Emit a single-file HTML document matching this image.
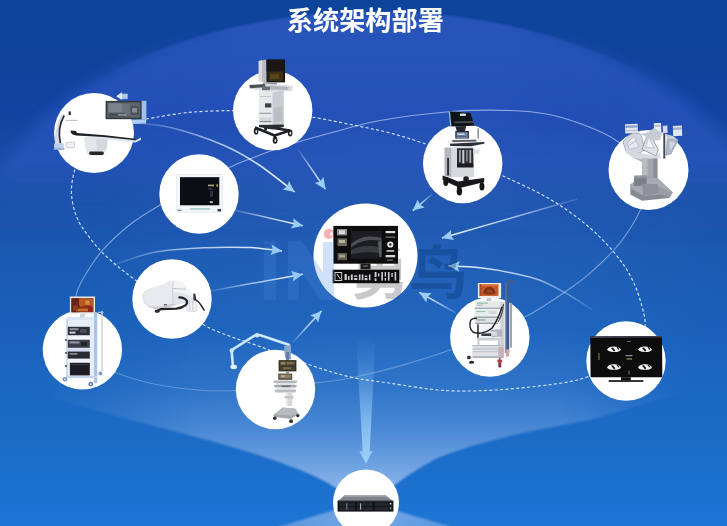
<!DOCTYPE html>
<html lang="zh">
<head>
<meta charset="utf-8">
<title>系统架构部署</title>
<style>
html,body{margin:0;padding:0;background:#1b58b2;}
body{width:727px;height:526px;overflow:hidden;font-family:"Liberation Sans",sans-serif;}
svg{display:block;position:absolute;left:0;top:0;}
h1.t{position:absolute;left:287px;top:4px;margin:0;width:158px;height:32px;font:bold 26px/32px "Liberation Sans",sans-serif;color:transparent;white-space:nowrap;overflow:hidden;z-index:2;}
</style>
</head>
<body>
<svg width="727" height="526" viewBox="0 0 727 526">
<defs>
<linearGradient id="bg" x1="0" y1="0" x2="0" y2="526" gradientUnits="userSpaceOnUse">
<stop offset="0" stop-color="#0d4499"/>
<stop offset="0.114" stop-color="#10439b"/>
<stop offset="0.21" stop-color="#1243a2"/>
<stop offset="0.247" stop-color="#1546a2"/>
<stop offset="0.305" stop-color="#1a4dab"/>
<stop offset="0.38" stop-color="#1a51aa"/>
<stop offset="0.475" stop-color="#1a58b2"/>
<stop offset="0.627" stop-color="#1a61bb"/>
<stop offset="0.76" stop-color="#1b68c3"/>
<stop offset="0.855" stop-color="#1b6dc8"/>
<stop offset="0.93" stop-color="#1c71cf"/>
<stop offset="1" stop-color="#1e75d3"/>
</linearGradient>
<linearGradient id="dome" x1="0" y1="0" x2="0" y2="526" gradientUnits="userSpaceOnUse">
<stop offset="0.025" stop-color="#5a78fa" stop-opacity="0.34"/>
<stop offset="0.114" stop-color="#5a78fa" stop-opacity="0.32"/>
<stop offset="0.21" stop-color="#5a78fa" stop-opacity="0.26"/>
<stop offset="0.305" stop-color="#5a78fa" stop-opacity="0.14"/>
<stop offset="0.38" stop-color="#5a78fa" stop-opacity="0.05"/>
<stop offset="0.456" stop-color="#5a78fa" stop-opacity="0"/>
</linearGradient>
<linearGradient id="mh" x1="0" y1="0" x2="727" y2="0" gradientUnits="userSpaceOnUse">
<stop offset="0.10" stop-color="#000"/>
<stop offset="0.33" stop-color="#fff"/>
<stop offset="0.70" stop-color="#fff"/>
<stop offset="0.93" stop-color="#000"/>
</linearGradient>
<linearGradient id="mhi" x1="0" y1="0" x2="727" y2="0" gradientUnits="userSpaceOnUse">
<stop offset="0.10" stop-color="#fff"/>
<stop offset="0.33" stop-color="#000"/>
<stop offset="0.70" stop-color="#000"/>
<stop offset="0.93" stop-color="#fff"/>
</linearGradient>
<mask id="mSharp" maskUnits="userSpaceOnUse" x="0" y="0" width="727" height="526"><rect width="727" height="526" fill="url(#mh)"/></mask>
<mask id="mSoft" maskUnits="userSpaceOnUse" x="0" y="0" width="727" height="526"><rect width="727" height="526" fill="url(#mhi)"/></mask>
<linearGradient id="mf" x1="0" y1="0" x2="727" y2="0" gradientUnits="userSpaceOnUse">
<stop offset="0.04" stop-color="#000"/>
<stop offset="0.27" stop-color="#fff"/>
<stop offset="0.77" stop-color="#fff"/>
<stop offset="0.965" stop-color="#000"/>
</linearGradient>
<mask id="mFun" maskUnits="userSpaceOnUse" x="0" y="0" width="727" height="526"><rect width="727" height="526" fill="url(#mf)"/></mask>
<clipPath id="cIn"><circle cx="365.5" cy="255.5" r="52"/><circle cx="489.8" cy="337" r="39.7"/></clipPath>
<clipPath id="cOut"><path clip-rule="evenodd" d="M0,0H727V526H0Z M417.5,255.5 a52,52 0 1,0 -104,0 a52,52 0 1,0 104,0Z"/></clipPath>
<radialGradient id="cglow" cx="0" cy="0" r="1" gradientUnits="userSpaceOnUse" gradientTransform="translate(400,270) scale(330,170)">
<stop offset="0" stop-color="#9fc0ff" stop-opacity="0.07"/><stop offset="0.6" stop-color="#9fc0ff" stop-opacity="0.04"/><stop offset="1" stop-color="#9fc0ff" stop-opacity="0"/>
</radialGradient>
<filter id="b8" x="-10%" y="-10%" width="120%" height="120%"><feGaussianBlur stdDeviation="7"/></filter>
<linearGradient id="funnel" x1="0" y1="0" x2="0" y2="526" gradientUnits="userSpaceOnUse">
<stop offset="0.62" stop-color="#96b9eb" stop-opacity="0"/>
<stop offset="0.741" stop-color="#96b9eb" stop-opacity="0.15"/>
<stop offset="0.76" stop-color="#96b9eb" stop-opacity="0.22"/>
<stop offset="0.817" stop-color="#96b9eb" stop-opacity="0.38"/>
<stop offset="0.871" stop-color="#96b9eb" stop-opacity="0.63"/>
<stop offset="0.93" stop-color="#a6c6f0" stop-opacity="0.8"/>
</linearGradient>
<linearGradient id="beam" x1="0" y1="336" x2="0" y2="464" gradientUnits="userSpaceOnUse">
<stop offset="0" stop-color="#8cc4f5" stop-opacity="0"/>
<stop offset="0.18" stop-color="#8cc4f5" stop-opacity="0.13"/>
<stop offset="0.4" stop-color="#8cc4f5" stop-opacity="0.36"/>
<stop offset="0.72" stop-color="#94caf8" stop-opacity="0.8"/>
<stop offset="1" stop-color="#9ad0fb" stop-opacity="1"/>
</linearGradient>
<radialGradient id="under" cx="366" cy="500" r="130" gradientUnits="userSpaceOnUse">
<stop offset="0" stop-color="#a6c6f0" stop-opacity="0.8"/>
<stop offset="0.3" stop-color="#8db5ea" stop-opacity="0.7"/>
<stop offset="0.8" stop-color="#7faee8" stop-opacity="0.55"/>
<stop offset="1" stop-color="#6fa2e4" stop-opacity="0.4"/>
</radialGradient>
<filter id="b1" x="-10%" y="-10%" width="120%" height="120%"><feGaussianBlur stdDeviation="0.8"/></filter>
<filter id="b2" x="-10%" y="-10%" width="120%" height="120%"><feGaussianBlur stdDeviation="2"/></filter>
<filter id="b3" x="-20%" y="-20%" width="140%" height="140%"><feGaussianBlur stdDeviation="0.45"/></filter>
</defs>

<!-- background -->
<rect x="0" y="0" width="727" height="526" fill="url(#bg)"/>
<rect x="0" y="0" width="727" height="526" fill="url(#cglow)"/>
<!-- dome -->
<g mask="url(#mSharp)"><ellipse cx="375" cy="254" rx="400" ry="242.5" fill="url(#dome)" filter="url(#b1)"/></g>
<g mask="url(#mSoft)"><ellipse cx="375" cy="254" rx="400" ry="242.5" fill="url(#dome)" filter="url(#b8)"/></g>
<!-- funnel -->
<g filter="url(#b1)" mask="url(#mFun)">
<path d="M-10,380 C30,392 50,398 75,405 C110,414 130,420 150,425 C185,434 205,439 225,445 C260,455 285,464 300,470 C315,476 325,481 336,488 L366,500 L396,484 C410,474 425,464 439,457.5 C465,447 490,441 514,435 C540,429 565,425 589,420 C610,415 625,410 639,405 C670,396 700,390 737,384 L737,300 L-10,300 Z" fill="url(#funnel)"/>
<path d="M336,509.2 C320,514.5 298,521 264,531 L466,531 C434,521.5 412,515.5 396,510.5 Z" fill="url(#under)"/>
</g>
<!-- beam -->
<path d="M356,336 L375.5,336 L369.7,451.5 L372.6,451 L366,463.8 L359.3,451 L362.7,451.5 Z" fill="url(#beam)" filter="url(#b3)"/>

<defs><linearGradient id="gaB" gradientUnits="userSpaceOnUse" x1="133.8" y1="122.7" x2="294.6" y2="192"><stop offset="0" stop-color="#cfe4ff" stop-opacity="0.12"/><stop offset="0.45" stop-color="#d9eaff" stop-opacity="0.7"/><stop offset="1" stop-color="#f0f7ff" stop-opacity="1"/></linearGradient><linearGradient id="gaD" gradientUnits="userSpaceOnUse" x1="298.5" y1="150" x2="325.4" y2="189.2"><stop offset="0" stop-color="#cfe4ff" stop-opacity="0.12"/><stop offset="0.45" stop-color="#d9eaff" stop-opacity="0.7"/><stop offset="1" stop-color="#f0f7ff" stop-opacity="1"/></linearGradient><linearGradient id="gaE" gradientUnits="userSpaceOnUse" x1="232" y1="209.5" x2="302.8" y2="225.8"><stop offset="0" stop-color="#cfe4ff" stop-opacity="0.12"/><stop offset="0.45" stop-color="#d9eaff" stop-opacity="0.7"/><stop offset="1" stop-color="#f0f7ff" stop-opacity="1"/></linearGradient><linearGradient id="gaF" gradientUnits="userSpaceOnUse" x1="113.5" y1="265" x2="282" y2="250.9"><stop offset="0" stop-color="#cfe4ff" stop-opacity="0.12"/><stop offset="0.45" stop-color="#d9eaff" stop-opacity="0.7"/><stop offset="1" stop-color="#f0f7ff" stop-opacity="1"/></linearGradient><linearGradient id="gaH" gradientUnits="userSpaceOnUse" x1="210" y1="291" x2="302.8" y2="274.3"><stop offset="0" stop-color="#cfe4ff" stop-opacity="0.12"/><stop offset="0.45" stop-color="#d9eaff" stop-opacity="0.7"/><stop offset="1" stop-color="#f0f7ff" stop-opacity="1"/></linearGradient><linearGradient id="gaI" gradientUnits="userSpaceOnUse" x1="292.6" y1="342.4" x2="321.5" y2="310.9"><stop offset="0" stop-color="#cfe4ff" stop-opacity="0.12"/><stop offset="0.45" stop-color="#d9eaff" stop-opacity="0.7"/><stop offset="1" stop-color="#f0f7ff" stop-opacity="1"/></linearGradient><linearGradient id="gaJ" gradientUnits="userSpaceOnUse" x1="456" y1="313" x2="419.3" y2="292.4"><stop offset="0" stop-color="#cfe4ff" stop-opacity="0.12"/><stop offset="0.45" stop-color="#d9eaff" stop-opacity="0.7"/><stop offset="1" stop-color="#f0f7ff" stop-opacity="1"/></linearGradient><linearGradient id="gaK" gradientUnits="userSpaceOnUse" x1="592.5" y1="309.8" x2="448.5" y2="265.8"><stop offset="0" stop-color="#cfe4ff" stop-opacity="0.12"/><stop offset="0.45" stop-color="#d9eaff" stop-opacity="0.7"/><stop offset="1" stop-color="#f0f7ff" stop-opacity="1"/></linearGradient><linearGradient id="gaM" gradientUnits="userSpaceOnUse" x1="432.3" y1="194" x2="412.8" y2="210.6"><stop offset="0" stop-color="#cfe4ff" stop-opacity="0.12"/><stop offset="0.45" stop-color="#d9eaff" stop-opacity="0.7"/><stop offset="1" stop-color="#f0f7ff" stop-opacity="1"/></linearGradient><linearGradient id="gaN" gradientUnits="userSpaceOnUse" x1="578" y1="198.8" x2="442" y2="238"><stop offset="0" stop-color="#cfe4ff" stop-opacity="0.12"/><stop offset="0.45" stop-color="#d9eaff" stop-opacity="0.7"/><stop offset="1" stop-color="#f0f7ff" stop-opacity="1"/></linearGradient><linearGradient id="gLoop" gradientUnits="userSpaceOnUse" x1="0" y1="100" x2="0" y2="400"><stop offset="0" stop-color="#cfe0ff" stop-opacity="0.62"/><stop offset="0.65" stop-color="#cfe0ff" stop-opacity="0.5"/><stop offset="0.85" stop-color="#cfe0ff" stop-opacity="0.36"/><stop offset="1" stop-color="#cfe0ff" stop-opacity="0.3"/></linearGradient></defs>
<g filter="url(#b3)">
<path d="M380.0,120.5 C399.4,117.1 429.9,113.2 451.6,111.5 C473.3,109.8 493.9,110.0 510.0,110.5 C526.1,111.0 535.3,111.8 548.0,114.3 C560.7,116.8 574.5,121.3 586.0,125.8 C597.5,130.2 607.5,134.3 617.0,141.0 C626.5,147.7 638.2,157.5 643.0,166.0 C647.8,174.5 646.4,184.7 646.0,192.0 C645.6,199.3 643.5,202.9 640.5,209.6 C637.5,216.3 632.3,225.4 627.7,232.3 C623.1,239.2 619.7,243.9 613.1,251.0 C606.5,258.1 596.0,268.0 588.0,274.8 C580.0,281.6 572.0,287.1 565.0,292.0 C558.0,296.9 552.4,300.5 546.0,304.5 C539.6,308.5 535.9,311.2 526.6,316.1 C517.3,321.0 502.8,328.4 490.0,334.0 C477.2,339.6 463.7,345.1 450.0,350.0 C436.3,354.9 421.2,359.6 407.8,363.6 C394.4,367.6 380.6,371.1 369.3,373.8 C358.0,376.5 348.9,378.5 340.0,380.0 C331.1,381.5 326.5,381.4 315.7,382.9 C304.9,384.4 288.5,387.7 275.0,389.0 C261.5,390.3 247.3,390.4 234.8,390.6 C222.3,390.8 212.8,391.2 200.0,390.2 C187.2,389.2 171.6,387.6 157.8,384.8 C144.0,382.0 128.9,377.9 117.3,373.3 C105.7,368.7 95.5,364.7 88.0,357.0 C80.5,349.3 74.0,337.4 72.0,327.0 C70.0,316.6 74.0,303.3 76.3,294.4 C78.6,285.5 81.5,281.2 86.0,273.8 C90.5,266.4 95.5,258.0 103.0,249.7 C110.5,241.4 121.3,231.4 130.7,224.0 C140.1,216.6 148.8,211.5 159.5,205.2 C170.2,198.9 183.2,192.4 195.0,186.0 C206.8,179.6 221.4,171.5 230.4,167.0 C239.4,162.5 242.3,161.9 249.2,159.2 C256.1,156.5 262.9,153.7 271.5,150.7 C280.1,147.7 290.0,144.5 300.6,141.3 C311.2,138.2 321.8,135.3 335.0,131.8 C348.2,128.3 360.6,123.9 380.0,120.5Z" stroke="url(#gLoop)" stroke-width="1.1" fill="none"/>
<path d="M146.0,119.0 C153.2,117.9 174.4,113.8 189.0,112.4 C203.6,111.0 219.7,110.7 233.5,110.6 C247.3,110.5 258.8,110.9 272.0,112.0 C285.2,113.1 298.3,114.9 312.6,117.2 C326.9,119.5 345.1,123.4 358.0,126.0 C370.9,128.6 379.1,130.1 390.0,133.0 C400.9,135.9 411.5,139.1 423.7,143.3 C435.9,147.5 449.8,152.6 463.0,158.0 C476.2,163.4 489.0,169.4 503.0,176.0 C517.0,182.6 533.3,189.5 547.0,197.4 C560.7,205.3 573.8,214.5 585.0,223.7 C596.2,232.8 606.0,242.8 614.0,252.3 C622.0,261.9 628.0,270.7 633.0,281.0 C638.0,291.3 642.0,305.8 644.0,314.3 C646.0,322.8 644.8,329.1 645.0,332.0" stroke="#e4f0ff" stroke-opacity="0.9" stroke-width="1.15" fill="none" stroke-dasharray="3.1 2.3"/>
<path d="M80.0,160.0 C79.0,162.1 75.4,166.6 74.0,172.4 C72.6,178.2 70.9,187.0 71.5,194.7 C72.1,202.4 74.2,211.4 77.4,218.8 C80.7,226.2 86.1,233.1 91.0,239.4 C95.9,245.7 99.4,250.0 106.6,256.6 C113.8,263.2 123.4,271.4 134.0,279.0 C144.6,286.6 158.3,294.3 170.0,302.0 C181.7,309.7 193.8,319.2 204.0,325.0 C214.2,330.8 222.7,333.5 231.0,336.7 C239.3,339.9 240.5,339.6 254.0,344.4 C267.5,349.2 295.8,360.2 311.9,365.6 C328.0,371.0 337.6,374.1 350.4,377.0 C363.2,379.9 372.5,380.7 388.5,383.0 C404.5,385.3 427.1,389.5 446.3,390.6 C465.6,391.7 484.7,390.7 504.0,389.4 C523.3,388.1 548.1,385.1 561.9,383.0 C575.7,380.9 579.0,379.5 587.0,377.0 C595.0,374.5 606.2,369.5 610.0,368.0" stroke="#e4f0ff" stroke-opacity="0.9" stroke-width="1.15" fill="none" stroke-dasharray="3.1 2.3"/>
<path d="M133.8,122.7 C140.1,123.5 156.7,124.1 171.6,127.8 C186.5,131.5 208.7,139.0 223.0,145.0 C237.3,151.0 245.7,156.2 257.6,164.0 C269.5,171.8 288.4,187.3 294.6,192.0" stroke="url(#gaB)" stroke-width="1.5" fill="none"/>
<path d="M298.5,150 L325.4,189.2" stroke="url(#gaD)" stroke-width="1.5" fill="none"/>
<path d="M232,209.5 L302.8,225.8" stroke="url(#gaE)" stroke-width="1.5" fill="none"/>
<path d="M113.5,265.0 C120.3,262.9 139.0,255.2 154.4,252.3 C169.8,249.4 190.1,248.5 206.0,247.7 C221.9,246.9 237.3,247.1 250.0,247.6 C262.7,248.1 276.7,250.3 282.0,250.9" stroke="url(#gaF)" stroke-width="1.5" fill="none"/>
<path d="M210,291 L302.8,274.3" stroke="url(#gaH)" stroke-width="1.5" fill="none"/>
<path d="M292.6,342.4 L321.5,310.9" stroke="url(#gaI)" stroke-width="1.5" fill="none"/>
<path d="M456,313 L419.3,292.4" stroke="url(#gaJ)" stroke-width="1.5" fill="none"/>
<path d="M592.5,309.8 C588.2,307.1 575.2,298.4 566.5,293.5 C557.8,288.6 548.9,283.6 540.0,280.2 C531.1,276.8 523.3,275.3 513.3,273.2 C503.3,271.1 490.8,269.0 480.0,267.8 C469.2,266.6 453.8,266.1 448.5,265.8" stroke="url(#gaK)" stroke-width="1.5" fill="none"/>
<path d="M432.3,194 L412.8,210.6" stroke="url(#gaM)" stroke-width="1.5" fill="none"/>
<path d="M578,198.8 L442,238" stroke="url(#gaN)" stroke-width="1.5" fill="none"/>
<path d="M294.6,192.0 L282.6,189.6 L287.3,186.4 L289.0,181.1Z" fill="#9ccdf6"/>
<path d="M325.4,189.2 L314.8,183.1 L320.2,181.6 L323.5,177.1Z" fill="#9ccdf6"/>
<path d="M302.8,225.8 L290.9,228.5 L293.8,223.7 L293.3,218.2Z" fill="#9ccdf6"/>
<path d="M282.0,250.9 L270.5,255.0 L272.8,250.0 L271.6,244.5Z" fill="#9ccdf6"/>
<path d="M302.8,274.3 L292.9,281.5 L293.7,275.9 L291.0,271.0Z" fill="#9ccdf6"/>
<path d="M321.5,310.9 L318.0,322.6 L315.3,317.7 L310.2,315.4Z" fill="#9ccdf6"/>
<path d="M419.3,292.4 L431.5,293.2 L427.3,296.9 L426.3,302.4Z" fill="#9ccdf6"/>
<path d="M448.5,265.8 L459.8,261.2 L457.7,266.4 L459.1,271.8Z" fill="#9ccdf6"/>
<path d="M412.8,210.6 L417.7,199.4 L419.8,204.6 L424.6,207.5Z" fill="#9ccdf6"/>
<path d="M442.0,238.0 L451.1,229.9 L450.8,235.5 L454.0,240.0Z" fill="#9ccdf6"/>
</g>


<!-- circles -->
<g fill="#ffffff" filter="url(#b3)">
<circle cx="94" cy="133" r="40"/>
<circle cx="272.7" cy="110.5" r="39.7"/>
<circle cx="199" cy="194" r="39.7"/>
<circle cx="462.7" cy="163.5" r="39.7"/>
<circle cx="648.5" cy="170" r="40"/>
<circle cx="365.5" cy="255.5" r="52"/>
<circle cx="172" cy="299" r="39.7"/>
<circle cx="82.4" cy="349.8" r="39.7"/>
<circle cx="275.5" cy="389.5" r="39.7"/>
<circle cx="489.8" cy="337" r="39.7"/>
<circle cx="626" cy="361" r="39.7"/>
<circle cx="366" cy="502.5" r="33"/>
</g>

<circle cx="328.9" cy="233.9" r="5.1" fill="#f06a6a" opacity="0.5" filter="url(#b3)"/><circle cx="331.6" cy="233.9" r="1.7" fill="#ffffff" filter="url(#b3)"/>
<g clip-path="url(#cIn)" filter="url(#b3)"><text x="350.5" y="293.8" font-family="'Liberation Sans','Noto Sans CJK SC',sans-serif" font-size="58.5" font-weight="bold" fill="#7d7f84" opacity="0.42">勇鸟</text></g>
<g filter="url(#b3)">
<!-- 1: C-arm -->
<g><title>C形臂 DSA</title>
<path d="M127.4,93.8 h-5.6 v-1.5 l-5.6,3.9 l5.6,3.9 v-1.5 h5.6z" fill="#dfeaf9"/>
<rect x="122" y="94" width="5.6" height="5.2" fill="#9fc0ea" opacity="0.8"/>
<path d="M131.2,119.6 L146.3,119.2 L146,123.6 L133,124z" fill="#aecbf0"/>
<rect x="140.8" y="100.8" width="5.6" height="18.6" fill="#9fc1ee"/>
<rect x="105.6" y="100.9" width="36" height="18.3" fill="#33373e"/>
<rect x="107.2" y="102.4" width="33" height="15.2" fill="#5f656d"/>
<rect x="108.5" y="103.4" width="14" height="9" fill="#7d838b"/>
<rect x="123" y="104" width="7" height="11" fill="#6b7179"/>
<rect x="130.5" y="106" width="8.5" height="9" fill="#4d525a"/>
<rect x="132" y="108" width="5" height="4.5" fill="#878d95"/>
<rect x="109" y="113.2" width="16" height="3.2" fill="#474c54"/>
<rect x="118" y="114.2" width="8" height="1.3" fill="#9da3ab"/>
<path d="M84,136.8 L107.8,137.2 L107,148 Q106,155 98,155.4 L91,155.4 Q86,154.5 85,147z" fill="#e3e6eb"/>
<path d="M96,138.5 L107.6,138.8 L106.8,149 L97,151z" fill="#d3d7de"/>
<rect x="89.2" y="151.6" width="14.6" height="3.4" rx="1.4" fill="#25272d"/>
<path d="M108,137 L135.5,140.4 L140.8,137.4 L141,139.8 L135.6,142.6 L108,139.4z" fill="#dfe7f4"/>
<path d="M70.6,130.6 L76,130.9 L77,133 L105,135.3 L135.3,138.8 L135.2,140.2 L104,137 L76,135.4 Q70.4,135 70.6,130.6z" fill="#1e2027"/>
<path d="M63.8,115 Q55,128 57.5,149" fill="none" stroke="#d6dbe4" stroke-width="4"/>
<path d="M64.2,115.3 Q57,128 60.4,143.5" fill="none" stroke="#2b2f3c" stroke-width="1.7"/>
<rect x="68.6" y="111.4" width="2.2" height="3.6" fill="#2a2e38"/>
<rect x="65.8" y="119.9" width="11.7" height="0.9" fill="#aeb4bd"/>
<path d="M54.1,143.4 L63.6,143 L63.8,149 L54.2,149.4z" fill="#bfd0ea"/>
<rect x="53.8" y="148.2" width="10.8" height="1.6" fill="#8fa6cc"/>
<rect x="66" y="142.4" width="8.6" height="5.4" rx="1" fill="#eef1f5" stroke="#b5bcc8" stroke-width="0.7"/>
</g>
<!-- 2: ultrasound cart (top) -->
<g><title>超声工作站</title>
<path d="M258.7,61 L266.4,59.4 L266.4,82.4 L258.7,81z" fill="#b9bcc2"/>
<path d="M258.7,61 L262,60.3 L262,81.6 L258.7,81z" fill="#d9dbdf"/>
<rect x="266.4" y="59.4" width="18.6" height="23" fill="#1a1816"/>
<rect x="268.5" y="71.5" width="14.5" height="9.5" fill="#3e3116"/>
<rect x="270" y="74" width="9" height="5" fill="#564419"/>
<rect x="263" y="82.4" width="14" height="2.5" fill="#8d9198"/>
<path d="M249.3,85 L266,83.6 L293.2,86 L292,91 L268,92.3 L250,88.5z" fill="#dadde2"/>
<path d="M249.3,85.1 L265,84 L265.5,87.3 L250,88.2z" fill="#4c5058"/>
<path d="M270,85.5 L289,87 L288,90 L270,89.5z" fill="#b2b6bd"/>
<rect x="262" y="86.5" width="8" height="3.6" fill="#6a6e76"/>
<path d="M258.7,91 L272.3,92.5 L272.3,127.4 L258.7,125z" fill="#e7e9ed"/>
<path d="M272.3,92.5 L283.8,90.6 L283.8,124.5 L272.3,127.4z" fill="#c9ccd2"/>
<rect x="260" y="96" width="11" height="0.8" fill="#b6bac1"/>
<rect x="265" y="103.3" width="6.3" height="4.2" fill="#3f434a"/>
<rect x="259.5" y="112.8" width="12" height="1" fill="#8d9198"/>
<rect x="259.5" y="117.5" width="12" height="3.6" fill="#d2d5da"/>
<rect x="259.5" y="121.2" width="12" height="0.9" fill="#6f737a"/>
<path d="M274,108 L282.5,106.5 L282.5,121 L274,123z" fill="#b9bdc4"/>
<path d="M255,127.5 L274.5,135.5 L275.5,139" fill="none" stroke="#1f2126" stroke-width="2.8" stroke-linejoin="round"/>
<path d="M264.5,126.5 L289.5,130.5" fill="none" stroke="#1f2126" stroke-width="2.6"/>
<path d="M274.5,135.5 L290,130.5" fill="none" stroke="#1f2126" stroke-width="2.4"/>
<path d="M259,125 L283.8,124.5 L283.8,127 L272.3,129.4 L259,127z" fill="#2a2c31"/>
<ellipse cx="256.1" cy="131.2" rx="2.3" ry="3.4" fill="#1b1d21"/><ellipse cx="256.3" cy="131.4" rx="0.9" ry="1.6" fill="#d9dbdf"/>
<ellipse cx="275.1" cy="140.3" rx="2.4" ry="3.5" fill="#1b1d21"/><ellipse cx="275.3" cy="140.5" rx="0.9" ry="1.6" fill="#d9dbdf"/>
<ellipse cx="290.2" cy="133" rx="2.3" ry="3.4" fill="#1b1d21"/><ellipse cx="290.4" cy="133.2" rx="0.9" ry="1.6" fill="#d9dbdf"/>
<ellipse cx="265.6" cy="128.6" rx="1.6" ry="2.2" fill="#26282d"/>
</g>
<!-- 3: patient monitor -->
<g><title>监护仪</title>
<rect x="176.4" y="174.5" width="46" height="37.7" rx="1.5" fill="#f5f6f8" stroke="#dfe3e9" stroke-width="0.6"/>
<rect x="180" y="177.2" width="39.3" height="28.1" fill="#090b14"/>
<rect x="208" y="184.6" width="6" height="1.7" fill="#a9a37c"/>
<rect x="216.5" y="184.3" width="1.2" height="2.4" fill="#e9d55a"/>
<rect x="208.5" y="188.5" width="4" height="1" fill="#5d6270"/>
<rect x="210" y="191" width="3" height="6" fill="#2f3340"/>
<rect x="209.8" y="201.2" width="3" height="1.8" fill="#c4c6ca"/>
<rect x="189.5" y="208" width="21" height="1.8" rx="0.9" fill="#a9d1cf"/>
<rect x="177.5" y="209.5" width="4" height="1.6" fill="#8e939b"/>
<rect x="217.5" y="209" width="3.6" height="2.4" fill="#3a3d45"/>
</g>
<!-- 4: ultrasound (right) -->
<g><title>彩色超声</title>
<path d="M448.6,111.2 L470.6,113 L474.2,125.8 L450.2,126.4z" fill="#111418"/>
<path d="M448.6,111.2 L449.9,111.3 L451.5,126.4 L450.2,126.4z" fill="#9cc3ec"/>
<rect x="459.8" y="113.6" width="6.2" height="2.4" rx="1" fill="#d9dbde"/>
<path d="M454.4,121.4 L473,121 L473.4,122.8 L454.6,123.3z" fill="#4a4d54"/>
<path d="M455.3,126.3 L466.1,126.1 L465,131.4 L457,131.4z" fill="#24272d"/>
<rect x="455.3" y="131" width="13.6" height="8.3" fill="#262931"/>
<rect x="456.5" y="132.2" width="11.2" height="5.8" fill="#7389ab"/>
<rect x="457.5" y="133.4" width="7" height="1.6" fill="#c9d5e6"/>
<rect x="457.5" y="135.8" width="9" height="1.2" fill="#4e6183"/>
<rect x="477.4" y="128.5" width="1.6" height="10.5" fill="#8a8f97"/>
<path d="M447.1,140.2 L455,138.6 L479,138.4 L485,141.2 L484.2,144.6 L470,147.4 L449.9,147z" fill="#eef0f3"/>
<path d="M449.9,143.8 L484.2,142 L484.6,143.6 L471,146.2 L450.4,146z" fill="#2c2f36"/>
<path d="M452,140.3 L476,139.8 L476.6,141.4 L452.6,142z" fill="#55585f"/>
<path d="M444.4,147.4 L451.7,147.4 L451.7,177.2 L444.4,176z" fill="#b3b7be"/>
<path d="M447.1,158 L449,158 L449,175.6 L447.1,175.4z" fill="#2f3239"/>
<path d="M451.7,147.4 L473.3,147 L474.4,177 L451.7,177.2z" fill="#d6d9de"/>
<rect x="457" y="148.3" width="16.3" height="19" fill="#2c2f36"/>
<rect x="459" y="150" width="1.8" height="12.5" fill="#9a9fa7"/>
<rect x="462.3" y="150" width="2" height="14.5" fill="#c9ccd2"/>
<rect x="466" y="150" width="1.8" height="11.5" fill="#7f848c"/>
<rect x="469.4" y="150" width="1.8" height="13" fill="#a9adb4"/>
<rect x="457" y="163.5" width="16.3" height="3.8" fill="#1c1e23"/>
<path d="M473.3,149.2 L479.6,149.6 L479,153.7 L473.3,153.7z" fill="#dcdfe4"/>
<path d="M463.4,181 L463.4,177.6 Q466,175 468.8,177.6 L468.8,181z" fill="#1a1c21"/>
<path d="M442.6,175.4 L458,181.5 L484.2,178 L484.2,182 L460,188 L442.6,180z" fill="#15171b"/>
<path d="M446,178 L458,183.5 L459.5,193" fill="none" stroke="#15171b" stroke-width="2.8"/>
<path d="M459,184 L482,180.5 L481.8,188" fill="none" stroke="#15171b" stroke-width="2.6"/>
<ellipse cx="445.8" cy="182.3" rx="2.5" ry="3.6" fill="#121418"/>
<ellipse cx="459.4" cy="191.2" rx="2.7" ry="4.2" fill="#121418"/>
<ellipse cx="481.9" cy="186.6" rx="2.5" ry="4" fill="#121418"/>
</g>
<!-- 5: surgical robot -->
<g><title>手术机器人</title>
<path d="M624.9,124.2 L637.6,123.8 L638,133 L625.3,133.6z" fill="#e4e9f1"/>
<path d="M625.2,125.6 L637.6,125.2 L637.7,127.6 L625.3,128z" fill="#8ea3c9"/>
<path d="M625.5,130 L637.8,129.6 L637.9,131 L625.6,131.4z" fill="#b9c5da"/>
<path d="M653.8,123.3 L661,123 L661.4,132.4 L654.2,132.8z" fill="#e9edf3"/>
<path d="M654.2,125 L661,124.7 L661.1,126.6 L654.3,126.9z" fill="#b3bfd3"/>
<path d="M662.8,125.8 L667.3,125.6 L667.6,133 L663,133.2z" fill="#d3dae5"/>
<path d="M672.8,126 L681.8,125.6 L682.2,135.8 L673.2,136.2z" fill="#dfe6f0"/>
<path d="M673,127.6 L681.8,127.2 L681.9,129.6 L673.1,130z" fill="#9fb1cd"/>
<!-- left arm tent -->
<path d="M623.1,142.1 Q627,135 634.9,133 L641,134 L644.8,149.3 L640,153 L625.8,151.1z" fill="#d3d8e0" stroke="#9aa2ae" stroke-width="0.8"/>
<path d="M627,143 L634,136 L639,147 L629,149.5z" fill="#e6e9ee" stroke="#a8afba" stroke-width="0.6"/>
<path d="M628,146 L636,141" stroke="#9aa2ae" stroke-width="0.6" fill="none"/>
<!-- second arm (A) -->
<path d="M648.4,132.1 L658.3,149.3 L656,156 L642.1,149.3z" fill="#dfe3e9" stroke="#8e96a2" stroke-width="0.9"/>
<path d="M648.6,137 L654.4,148 L645.5,147.4z" fill="#eef0f4" stroke="#a8afba" stroke-width="0.6"/>
<path d="M641,134 L648.4,132.1 L654,128 L662,133 L660,140 L653,141z" fill="#c5ccd6"/>
<!-- right arm -->
<path d="M667.3,138.5 L678.2,140 L671,153.8 L666,155z" fill="#b0bac9" stroke="#8792a3" stroke-width="0.7"/>
<path d="M669.5,141.5 L675,142.4 L670.4,150.6z" fill="#d0d7e2"/>
<path d="M665.2,134 L673,136 L678.2,140 L667.3,138.5z" fill="#c9d0db"/>
<rect x="663.3" y="133" width="2" height="25.5" fill="#454c58"/>
<!-- lower drape -->
<path d="M625.8,149.5 L640,153 L656,156 L660,152 L660.5,158.3 L645,160 L632,157 L625.8,153z" fill="#d5d9e0"/>
<path d="M632,157 L645,160 L657,159 L657,161 L642,162z" fill="#aeb4be"/>
<!-- column -->
<path d="M642.1,158.6 L657.4,158.6 L657.4,188 L642.1,188z" fill="#a2a7af"/>
<path d="M642.1,158.6 L647.5,158.6 L647.5,188 L642.1,188z" fill="#b8bcc3"/>
<path d="M653.4,158.6 L657.4,158.6 L657.4,188 L653.4,188z" fill="#8a8f97"/>
<!-- base -->
<path d="M630.3,184.5 L642,177 L657.4,178 L672.8,192.6 L669.2,198 L642.1,200.7 L630.3,194.4z" fill="#868b93"/>
<path d="M630.3,184.5 L642,177 L657.4,178 L672.8,192.6 L668,193.5 L644,196 L631,188.5z" fill="#a6aab2"/>
<path d="M634,175.8 L646.6,175.5 L646.6,185.4 L634,186z" fill="#7c8189"/>
<path d="M634,175.8 L646.6,175.5 L646.6,177.8 L634,178.2z" fill="#9499a1"/>
<path d="M642.1,184 L657.4,184 L660,193 L643,196z" fill="#8d929a"/>
<path d="M658.3,186.3 L672.8,192.6 L669.2,197.1 L659,194z" fill="#9a9fa7"/>
</g>
<!-- 6: centre console -->
<g><title>中央控制台</title>
<rect x="333.4" y="225.9" width="64.6" height="37.8" fill="#0b0b0d"/>
<rect x="337" y="229" width="10" height="6.4" fill="#8a8d91"/>
<rect x="339" y="230.4" width="6" height="3.6" fill="#d9dadc"/>
<rect x="337.5" y="238.4" width="9.5" height="7.6" fill="#6d6a5c"/>
<rect x="339" y="240" width="6" height="3" fill="#b9b49a"/>
<rect x="337.5" y="253" width="9.5" height="7.2" fill="#5e5b50"/>
<rect x="339" y="254.6" width="6" height="3" fill="#a5a08a"/>
<rect x="351" y="231" width="30.5" height="27.5" fill="#1a1c20"/>
<path d="M351,244 Q360,236 370,236.5 T381.5,238 L381.5,241 Q372,239 364,241 T351,247.5z" fill="#4c4f55"/>
<path d="M351,250 Q362,245 372,246 T381.5,248 L381.5,254 Q370,250.5 351,254.5z" fill="#373a40"/>
<path d="M378,242 L381.5,240.5 L381.5,257 L379.6,257z" fill="#5d6167"/>
<rect x="385.6" y="231" width="9.6" height="2.2" fill="#d9dadc"/>
<rect x="385.6" y="236.5" width="9.6" height="1.3" fill="#6f7277"/>
<circle cx="390.3" cy="244.5" r="3.1" fill="#e9eaec"/>
<circle cx="390.3" cy="244.5" r="1.2" fill="#222"/>
<rect x="386.5" y="250" width="7.6" height="1.8" fill="#b5b7bb"/>
<rect x="385.6" y="255" width="9.6" height="2.3" fill="#d4d5d8"/>
<rect x="387" y="259.5" width="6" height="1.2" fill="#75787d"/>
<rect x="360.5" y="263.7" width="10" height="5.6" fill="#1a1b1e"/>
<rect x="363" y="265" width="5" height="2" fill="#4a4c51"/>
<rect x="332.6" y="269.7" width="66.7" height="13.5" fill="#0b0b0d"/>
<g fill="#cfd0d3" transform="translate(335,0) scale(0.955,1) translate(-336,0)">
<rect x="336" y="272.5" width="7" height="8" fill="none" stroke="#cfd0d3" stroke-width="1"/>
<path d="M338,274 l3.6,5" stroke="#cfd0d3" stroke-width="1.1"/>
<rect x="346" y="274" width="2.4" height="6"/><rect x="349.6" y="276" width="1.6" height="4"/>
<rect x="352.6" y="274.4" width="2" height="5.6"/><rect x="356" y="275.4" width="3.4" height="1.4"/>
<rect x="356" y="278" width="3.4" height="2"/><rect x="361" y="274.4" width="1.7" height="5.8"/>
<rect x="364" y="274.4" width="1.7" height="5.8"/><rect x="367" y="275.6" width="3" height="1.3"/>
<rect x="367" y="278" width="3" height="2.2"/><rect x="371.5" y="274.4" width="1.6" height="5.8"/>
<rect x="377.5" y="272" width="2" height="5"/><rect x="377.5" y="278.4" width="2" height="2.6"/>
<rect x="381" y="273.5" width="1.5" height="3"/><rect x="384.5" y="272" width="1.7" height="8.6"/>
<rect x="388" y="272" width="1.5" height="4.6"/><rect x="388" y="278" width="1.5" height="2.6"/>
<rect x="391.4" y="272" width="1.7" height="8.6"/><rect x="395" y="273" width="1.5" height="4"/>
<rect x="398.4" y="272" width="1.7" height="8.6"/>
</g>
</g>

<!-- 7: VR headset -->
<g><title>VR 头显</title>
<path d="M142.2,295.8 Q142.8,291.5 146.4,290.1 L155.6,286.5 L163.9,284.4 Q168,281.5 171.1,280.8 L178.3,280.8 Q183.5,282.5 186.6,286.5 Q190.3,290 191.8,293.7 L192.8,299.9 Q186,303 176.3,305.1 L166,307.7 L158.7,308.7 Q155,309 152.5,308.2 Q148.5,307.4 146.4,305.1 Q144,303.5 143.3,301 Q142,298.5 142.2,295.8z" fill="#e2e4e8"/>
<path d="M146.4,290.1 L155.6,286.5 L163.9,284.4 Q168,281.5 171.1,280.8 L174,281 Q172,287 172.5,295 L173,303 Q160,307 152.5,306 Q146,304.5 144.6,299 Q143.6,293 146.4,290.1z" fill="#e8eaed"/>
<path d="M143.3,301 Q146,306.5 152.5,306.8 Q162,307 173,303.5 L176.3,305.1 L166,307.7 L158.7,308.7 Q155,309 152.5,308.2 Q148.5,307.4 146.4,305.1 Q144,303.5 143.3,301z" fill="#c9ccd2"/>
<path d="M171.1,280.8 L178.3,280.8 Q183.5,282.5 186.6,286.5 Q190.3,290 191.8,293.7 L192.3,297 Q186,293 179.5,292.5 L173,292 Q172,286 174,281z" fill="#f3f4f6"/>
<path d="M172.8,288.5 L186,289.2" stroke="#aeb2b9" stroke-width="0.8" fill="none"/>
<path d="M174,281 Q172,287 172.5,295 L173,303" stroke="#c3c6cc" stroke-width="0.7" fill="none"/>
<rect x="163.9" y="304" width="3.2" height="1.5" fill="#6a6d74"/>
<rect x="186.6" y="300.6" width="10.3" height="10.8" rx="1.4" fill="#eceef1" stroke="#cdd0d6" stroke-width="0.6"/>
<path d="M189.6,301 v10 M192.6,301 v10" stroke="#c4c8ce" stroke-width="0.7" fill="none"/>
<path d="M179.4,297.3 Q184.5,297.6 186.6,300.4 Q188,303 185.6,305.1 Q182,308 176.3,308.7 L160.8,309.2 L156.7,311.3" fill="none" stroke="#25272c" stroke-width="2.3" stroke-linecap="round"/>
<ellipse cx="157.2" cy="311.2" rx="2.6" ry="1.6" fill="#2b2d33"/>
<path d="M194.3,295.8 L195.9,299.9 Q199,301.5 201,305.1 L204.1,310.2" fill="none" stroke="#1f2126" stroke-width="1.5" stroke-linecap="round"/>
<rect x="193.3" y="293.6" width="2.2" height="7" rx="1" fill="#33363d"/>
</g>
<!-- 8: endoscopy tower (left) -->
<g><title>内窥镜台车</title>
<rect x="69.9" y="296.5" width="25.1" height="17.4" fill="#ebe7e1"/>
<rect x="71.4" y="298.2" width="22.1" height="14" fill="#8e2a1a"/>
<rect x="71.4" y="298.2" width="8" height="14" fill="#6a241a"/>
<path d="M79,299 L93,299 L93,307 Q88,304 84,306 T79,305z" fill="#b65a24"/>
<rect x="85.5" y="300.4" width="4" height="4.4" fill="#d8893a"/>
<rect x="76" y="308.5" width="12" height="2.8" fill="#c4702e"/>
<rect x="73" y="305.5" width="5" height="5" fill="#8e3c1c"/>
<rect x="80" y="313.9" width="5" height="3.2" fill="#cdd6e4"/>
<rect x="101.3" y="311.2" width="1.5" height="60" fill="#cfd5df"/>
<path d="M98,312.3 h5.4" stroke="#b9c2d0" stroke-width="1.2"/>
<rect x="93.9" y="312.2" width="3.3" height="71" fill="#a8c4ea"/>
<rect x="66.3" y="317" width="28" height="3.2" fill="#dbe6f5"/>
<rect x="66.3" y="319.5" width="1.6" height="58" fill="#b9cdea"/>
<rect x="67.8" y="320" width="26" height="57" fill="#e6edf8"/>
<rect x="67.8" y="326.8" width="22" height="8.4" fill="#2b2d36"/>
<rect x="69.5" y="328.2" width="9" height="2" fill="#8b90a0"/>
<rect x="80" y="329" width="7" height="4" rx="1.5" fill="#4a4e5c"/>
<rect x="69.5" y="331.6" width="6" height="2" fill="#c9ccd6"/>
<rect x="67.8" y="336.4" width="22" height="2.6" fill="#f4f7fb"/>
<rect x="67.8" y="339.8" width="22" height="8" fill="#3a3d48"/>
<rect x="69.5" y="341.3" width="10" height="2.2" fill="#9297a6"/>
<rect x="81" y="342" width="6" height="4" fill="#23252c"/>
<rect x="67.8" y="348.6" width="22" height="2.4" fill="#cfdcf0"/>
<rect x="67.8" y="351.5" width="22" height="7.1" fill="#2a2c34"/>
<rect x="69.5" y="353" width="8" height="1.8" fill="#7b8090"/>
<rect x="67.8" y="359.2" width="22" height="3" fill="#f2f5fa"/>
<rect x="69.9" y="362.8" width="19.9" height="12.6" fill="#1a1b20"/>
<rect x="71" y="364" width="17.5" height="1.2" fill="#3a3c44"/>
<rect x="66.3" y="376" width="31" height="2.2" fill="#c4d4ec"/>
<circle cx="64.9" cy="379.2" r="2.3" fill="#6f8fc4"/><circle cx="64.9" cy="379.2" r="0.9" fill="#e9eef8"/>
<circle cx="90.8" cy="384.2" r="2.4" fill="#5e80bb"/><circle cx="90.8" cy="384.2" r="0.9" fill="#e9eef8"/>
<circle cx="100.4" cy="373.5" r="2" fill="#7d9bcc"/>
<circle cx="66" cy="340" r="0.9" fill="#333"/><circle cx="66" cy="353" r="0.9" fill="#333"/><circle cx="66" cy="366" r="0.9" fill="#333"/>
</g>
<!-- 9: arm cart -->
<g><title>吊臂显示台车</title>
<path d="M233,367.5 L231.6,350.2 L254.5,335.6 L259.7,335 L289,344.9 L288.2,357" fill="none" stroke="#b9dcf9" stroke-width="2.7" stroke-linejoin="round"/>
<path d="M233,367.5 L231.6,350.2 L254.5,335.6 L259.7,335 L289,344.9" fill="none" stroke="#e6f3fd" stroke-width="0.9" stroke-linejoin="round"/>
<circle cx="231.8" cy="350.4" r="2.2" fill="#cfe6fb"/>
<circle cx="257" cy="335.3" r="2.2" fill="#cfe6fb"/>
<rect x="230.5" y="364.7" width="6.4" height="4.4" rx="1.8" fill="#e5eef9"/>
<path d="M284,346 L291,345.5 L291.2,359.5 L285,358z" fill="#8ba7cb"/>
<rect x="286.2" y="352" width="3" height="8.5" fill="#5f7ca4"/>
<rect x="278.6" y="360.1" width="17.8" height="11.3" fill="#37311f"/>
<rect x="280" y="361.4" width="15" height="4" fill="#5b5238"/>
<rect x="281" y="362" width="4" height="2.4" fill="#8f8762"/>
<rect x="287" y="362" width="6" height="2" fill="#7a7152"/>
<rect x="280" y="366.6" width="15" height="3.6" fill="#4a4330"/>
<rect x="283" y="367.2" width="8" height="2" fill="#756b4c"/>
<rect x="286" y="371.4" width="3" height="2.1" fill="#888c93"/>
<rect x="278.2" y="373.5" width="14" height="6.3" fill="#5a5040"/>
<rect x="279.5" y="374.6" width="11.4" height="3.6" fill="#8a7f69"/>
<rect x="281" y="375.2" width="4" height="2" fill="#b5ab93"/>
<path d="M273.3,380.4 L297.4,380.4 L296.4,383 L274.3,383z" fill="#b4b7bd"/>
<rect x="276" y="383" width="19" height="2" fill="#dfe1e5"/>
<path d="M273.8,385 L297,385 L296,387.6 L274.8,387.6z" fill="#a5a8af"/>
<path d="M281,385.4 L291,385.4 L290,387.2 L282,387.2z" fill="#6d7077"/>
<rect x="277" y="387.6" width="17" height="1.8" fill="#e3e5e8"/>
<path d="M274.3,389.4 L296.4,389.4 L295.4,392.6 L275.3,392.6z" fill="#b9bcc2"/>
<rect x="285.9" y="392.6" width="6.4" height="13.4" fill="#d6d8dc"/>
<rect x="285.9" y="392.6" width="2" height="13.4" fill="#e6e7ea"/>
<rect x="284.5" y="396" width="9" height="2.4" fill="#c3c6cb"/>
<path d="M273.3,415 L282.8,407.6 L295.3,408.7 L298.5,413.9 L291.1,419.1 L274.4,417z" fill="#a4a7ad"/>
<path d="M273.3,415 L282.8,407.6 L295.3,408.7 L298.5,413.9 L290,415.6 L276,414.6z" fill="#b7babf"/>
<circle cx="274.8" cy="418.3" r="1.8" fill="#2f3136"/>
<circle cx="291.1" cy="421.2" r="1.9" fill="#2f3136"/>
<circle cx="297.8" cy="415.6" r="1.7" fill="#2f3136"/>
</g>
<!-- 10: endoscopy cart (right) -->
<g><title>内镜系统</title>
<path d="M507.3,284 Q507.2,281 510,280.6 Q513.2,280.6 513.4,283.6" fill="none" stroke="#3f5c8c" stroke-width="2.4"/>
<rect x="505.5" y="283" width="3.7" height="70" fill="#41598a"/>
<rect x="505.5" y="283" width="1.2" height="70" fill="#5d78a8"/>
<rect x="509.8" y="303" width="2.2" height="44.6" fill="#9aa6b8"/>
<rect x="477.9" y="283" width="23.2" height="15" fill="#efece8"/>
<rect x="479.6" y="284.3" width="18.8" height="11.6" fill="#c9562a"/>
<path d="M483,293.6 Q484,287.6 489,286.8 Q494.5,287 495.6,293.6 Q489,295.6 483,293.6z" fill="#7c3219"/>
<path d="M486,292.4 Q487.5,289 490,289.2 Q492.5,289.8 492.8,292.8z" fill="#a4461f"/>
<rect x="479.6" y="284.3" width="18.8" height="1.6" fill="#dc7a3c"/>
<rect x="479.6" y="284.3" width="2" height="11.6" fill="#a94a2a"/>
<rect x="486.5" y="298" width="5" height="3" fill="#c4cad2"/>
<path d="M500.2,301.2 L504.6,302 L504.6,353 L500.2,353z" fill="#cdd2da"/>
<rect x="475.2" y="301.2" width="25" height="6.3" fill="#e5eae8"/>
<rect x="477" y="302.6" width="11" height="1" fill="#7fb59a"/>
<rect x="477" y="304.6" width="6" height="1.2" fill="#b1b9be"/>
<rect x="474.8" y="307.5" width="25.4" height="1.7" fill="#a5adb6"/>
<rect x="474.3" y="309.3" width="24.1" height="7.1" fill="#e9ecee"/>
<rect x="476.3" y="311" width="9" height="1.1" fill="#8fbfa6"/>
<rect x="488.5" y="311" width="8" height="3" fill="#d2d7dc"/>
<rect x="474.3" y="316.4" width="25" height="1.7" fill="#9fa7b0"/>
<rect x="475.2" y="318.2" width="21.4" height="4.4" fill="#dadfe2"/>
<rect x="477" y="319.4" width="8" height="1.1" fill="#7aa98f"/>
<rect x="475.2" y="322.6" width="23" height="1.4" fill="#98a0a9"/>
<rect x="477" y="324.2" width="1.9" height="13.6" fill="#4f535b"/>
<rect x="479" y="324" width="21" height="14" fill="#f1f3f5"/>
<path d="M490.4,329.8 L502,329.2 L502.4,336.4 L491.4,337.2z" fill="#b1b6be"/>
<path d="M487,332 L496.5,331.4 L497.6,335.6 L488,336.4z" fill="#d8dce1"/>
<rect x="481.4" y="333.4" width="9.8" height="2.6" fill="#3a3d45"/>
<path d="M502,306.6 Q499,318 492.1,328 Q486,333 477.9,333.4" fill="none" stroke="#1d1f24" stroke-width="1.5"/>
<path d="M470.7,320 Q468.6,328 472.5,331.6 Q475,333.6 479,333" fill="none" stroke="#1d1f24" stroke-width="1.4"/>
<path d="M470.7,320 Q473,317.6 477,318.6" fill="none" stroke="#1d1f24" stroke-width="1.2"/>
<path d="M503.4,304 Q503,314 498,322" fill="none" stroke="#3a3d45" stroke-width="1.1"/>
<rect x="477" y="337.8" width="26" height="2.7" fill="#c9ced5"/>
<rect x="477.6" y="340.5" width="1.8" height="5" fill="#c3c8cf"/>
<rect x="498" y="340.5" width="1.8" height="5" fill="#c3c8cf"/>
<rect x="472.5" y="345" width="31.3" height="12.5" fill="#dfe2e6"/>
<rect x="472.5" y="345" width="31.3" height="1.3" fill="#b7bcc4"/>
<rect x="472.5" y="348.5" width="26" height="1" fill="#aeb4bc"/>
<rect x="472.5" y="351.2" width="26" height="1" fill="#b9bec6"/>
<rect x="472.5" y="356.4" width="31.3" height="1.4" fill="#9ea5ae"/>
<rect x="498.4" y="347" width="5.4" height="10" fill="#ccb0b4"/>
<rect x="506" y="349.4" width="3.1" height="7.2" fill="#d3a5a5"/>
<rect x="467.1" y="355.7" width="3.6" height="3.6" rx="1.4" fill="#30333a"/>
<ellipse cx="471.6" cy="362.3" rx="2.7" ry="1.5" fill="#2b2d33"/>
<rect x="498.8" y="357.8" width="1.8" height="3" fill="#6d7079"/>
<rect x="497.4" y="359.6" width="4.8" height="2.6" fill="#b53c40"/>
<rect x="498.4" y="362.2" width="2.8" height="5.2" fill="#7d2d3c"/>
</g>
<!-- 11: quad-view monitor -->
<g><title>四分屏显示器</title>
<path d="M590.3,336.4 L662,336 L662.3,377.2 L590.6,377.2z" fill="#08090b"/>
<path d="M590.3,336.4 L662,336 L662,337.6 L590.4,338z" fill="#3d4048"/>
<g fill="#f2f3f4">
<path d="M607,349.6 q2,-3.4 7,-3.2 q5,-0.2 7,3 q-1.5,2.8 -7,2.6 q-5.5,0.2 -7,-2.4z"/>
<path d="M638,349.6 q2,-3.4 7,-3.2 q5,-0.2 7,3 q-1.5,2.8 -7,2.6 q-5.5,0.2 -7,-2.4z"/>
<path d="M607,367.4 q2,-3.4 7,-3.2 q5,-0.2 7,3 q-1.5,2.8 -7,2.6 q-5.5,0.2 -7,-2.4z"/>
<path d="M638,367.4 q2,-3.4 7,-3.2 q5,-0.2 7,3 q-1.5,2.8 -7,2.6 q-5.5,0.2 -7,-2.4z"/>
</g>
<g fill="#08090b">
<path d="M611,348 l3,3.4 l1.4,-1 l-2.6,-3z M616.5,347.4 l2,2.4 l1,-0.6 l-1.6,-2.2z"/>
<path d="M642,348 l3,3.4 l1.4,-1 l-2.6,-3z M647.5,347.4 l2,2.4 l1,-0.6 l-1.6,-2.2z"/>
<path d="M611,365.8 l3,3.4 l1.4,-1 l-2.6,-3z M616.5,365.2 l2,2.4 l1,-0.6 l-1.6,-2.2z"/>
<path d="M642,365.8 l3,3.4 l1.4,-1 l-2.6,-3z M647.5,365.2 l2,2.4 l1,-0.6 l-1.6,-2.2z"/>
</g>
<rect x="625.5" y="355" width="7" height="1.2" fill="#8f949b"/>
<rect x="626.5" y="358.4" width="5.6" height="1.1" fill="#b3a46a"/>
<rect x="598.5" y="353" width="0.9" height="7" fill="#9aa83a"/>
<rect x="627" y="341" width="4" height="0.9" fill="#6b7078"/>
<rect x="628.5" y="370.5" width="1" height="4" fill="#7d8289"/>
<rect x="621" y="377.2" width="9.8" height="3.2" fill="#0e0f12"/>
<rect x="608.7" y="380.2" width="34.6" height="1.7" fill="#141519"/>
</g>
<!-- 12: server -->
<g><title>服务器</title>
<path d="M345.1,495 L385.3,495 L392.8,500.9 L337.6,500.9z" fill="#7e828a"/>
<path d="M345.1,495 L385.3,495 L387.6,496.8 L342.8,496.8z" fill="#a4a8af"/>
<rect x="337.6" y="500.8" width="55.8" height="10.8" fill="#101216"/>
<rect x="337.6" y="500.8" width="55.8" height="0.9" fill="#33363d"/>
<g fill="#25282f">
<rect x="339.4" y="502.6" width="15.6" height="3.5"/><rect x="357" y="502.6" width="15.6" height="3.5"/><rect x="374.6" y="502.6" width="14" height="3.5"/>
<rect x="339.4" y="507" width="15.6" height="3.5"/><rect x="357" y="507" width="15.6" height="3.5"/><rect x="374.6" y="507" width="14" height="3.5"/>
</g>
<rect x="346.4" y="503.4" width="0.9" height="6.2" fill="#6f93c8"/>
<rect x="360.2" y="503.4" width="0.9" height="6.2" fill="#c9ccd2"/>
<rect x="389.8" y="503" width="1.6" height="1.6" fill="#d8dbe0"/>
<rect x="389.8" y="507.4" width="1.6" height="2" fill="#6b94cc"/>
</g>
</g>


<!-- watermark -->
<g filter="url(#b3)">
<g fill="#64a0f0" opacity="0.15" clip-path="url(#cOut)">
<path d="M263.8,241.2 h12.4 v3.2 h-12.4z M263.8,246.3 h12.4 v53.4 h-12.4z"/>
<path d="M287.9,241.2 h13.9 l21.2,31 v-30.2 h11 v57.7 h-13.5 l-21.6,-31.5 v31.5 h-11z"/>
</g>
<g fill="#64a0f0" opacity="0.31" clip-path="url(#cIn)">
<path d="M263.8,241.2 h12.4 v3.2 h-12.4z M263.8,246.3 h12.4 v53.4 h-12.4z"/>
<path d="M287.9,241.2 h13.9 l21.2,31 v-30.2 h11 v57.7 h-13.5 l-21.6,-31.5 v31.5 h-11z"/>
</g>
<g clip-path="url(#cOut)"><text x="350.5" y="293.8" font-family="'Liberation Sans','Noto Sans CJK SC',sans-serif" font-size="58.5" font-weight="bold" fill="#0a2a66" opacity="0.30">勇鸟</text></g>
</g>

<!-- title -->
<g filter="url(#b3)"><text x="286.8" y="30.3" font-family="'Liberation Sans','Noto Sans CJK SC',sans-serif" font-size="26.2" font-weight="bold" fill="#ffffff">系统架构部署</text></g>
</svg>
<h1 class="t">系统架构部署</h1>
</body>
</html>
